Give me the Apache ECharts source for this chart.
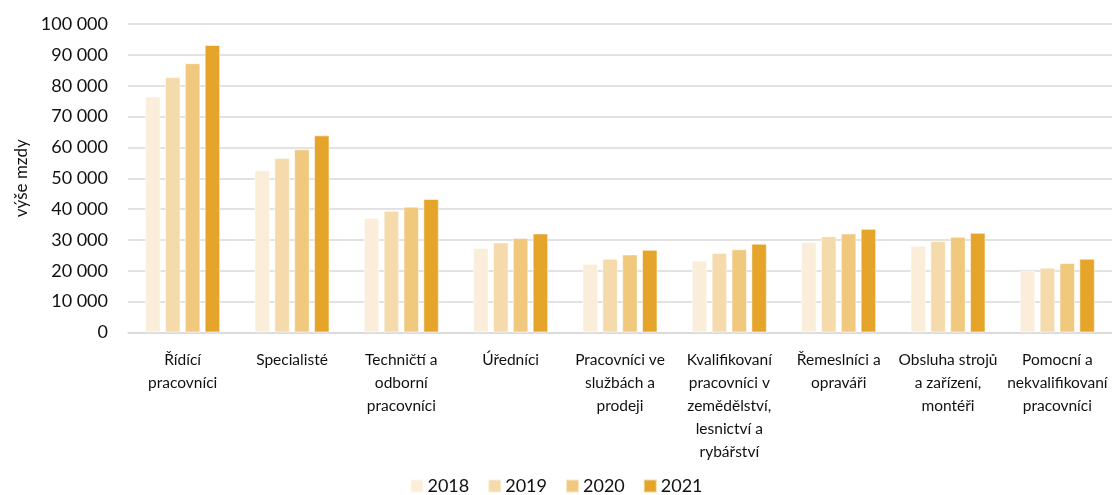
<!DOCTYPE html>
<html>
<head>
<meta charset="utf-8">
<script src="https://cdn.jsdelivr.net/npm/echarts@6/dist/echarts.min.js"></script>
<style>
html,body{margin:0;padding:0;background:#fff;}
#chart{width:1112px;height:495px;}
</style>
</head>
<body>
<div id="chart"></div>
<script>
const categories = [
  'Řídící\npracovníci',
  'Specialisté',
  'Techničtí a\nodborní\npracovníci',
  'Úředníci',
  'Pracovníci ve\nslužbách a\nprodeji',
  'Kvalifikovaní\npracovníci v\nzemědělství,\nlesnictví a\nrybářství',
  'Řemeslníci a\nopraváři',
  'Obsluha strojů\na zařízení,\nmontéři',
  'Pomocní a\nnekvalifikovaní\npracovníci'
];
const years = ['2018', '2019', '2020', '2021'];
const values2018 = [76500, 52600, 37100, 27400, 22300, 23300, 29300, 28100, 20000];
const values2019 = [82800, 56600, 39500, 29200, 23900, 25800, 31200, 29700, 21000];
const values2020 = [87300, 59400, 40800, 30600, 25300, 27000, 32100, 31000, 22500];
const values2021 = [93200, 63900, 43300, 32100, 26800, 28800, 33600, 32300, 23900];
const yTicks = { min: 0, max: 100000, interval: 10000 };
const colors = ['#FAEEDA', '#F5DAAB', '#F0C87E', '#E4A52A'];
const seriesValues = [values2018, values2019, values2020, values2021];

const FONT = 'Lato';
const TXT = '#111111';
const chart = echarts.init(document.getElementById('chart'), null, { renderer: 'canvas' });
chart.setOption({
  animation: false,
  color: colors,
  textStyle: { fontFamily: FONT },
  grid: { left: 128, right: 0, top: 24, bottom: 162.5, containLabel: false },
  legend: {
    data: years,
    bottom: 0,
    padding: [0, 5, 0, 5],
    left: 'center',
    itemWidth: 13,
    itemHeight: 13,
    itemGap: 18,
    icon: 'rect',
    textStyle: { fontFamily: FONT, fontSize: 18, color: TXT, padding: [0, 0, 0, -1] }
  },
  xAxis: {
    type: 'category',
    data: categories,
    axisLine: { lineStyle: { color: '#d9d9d9', width: 1.5 } },
    axisTick: { show: false },
    axisLabel: {
      interval: 0,
      margin: 16,
      fontFamily: FONT,
      fontSize: 15.5,
      lineHeight: 23,
      color: TXT,
      align: 'center'
    }
  },
  yAxis: {
    type: 'value',
    min: yTicks.min,
    max: yTicks.max,
    interval: yTicks.interval,
    name: 'výše mzdy',
    nameLocation: 'middle',
    nameGap: 98,
    nameRotate: 90,
    nameTextStyle: { fontFamily: FONT, fontSize: 17, color: TXT },
    axisLine: { show: false },
    axisTick: { show: false },
    splitLine: { lineStyle: { color: '#d9d9d9', width: 1.5 } },
    axisLabel: {
      margin: 20,
      fontFamily: FONT,
      fontSize: 18,
      color: TXT,
      formatter: v => String(v).replace(/\B(?=(\d{3})+(?!\d))/g, ' ')
    }
  },
  series: years.map((y, i) => ({
    name: y,
    type: 'bar',
    data: seriesValues[i],
    barWidth: 15.5,
    barGap: '28%',
    itemStyle: { color: colors[i], borderColor: 'rgba(255,255,255,0.55)', borderWidth: 1 }
  }))
});
</script>
</body>
</html>
